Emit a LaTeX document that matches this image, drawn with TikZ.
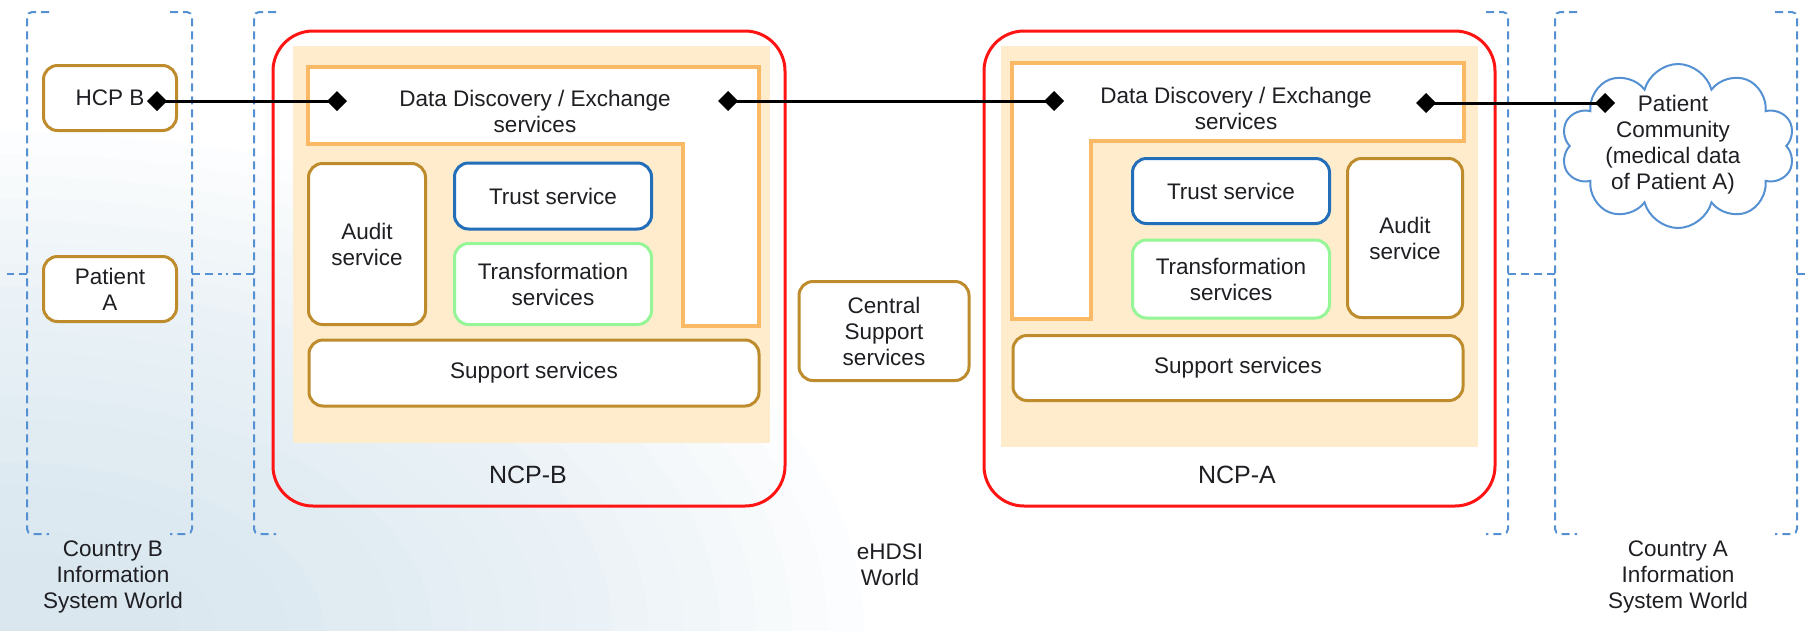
\documentclass[tikz,border=0pt]{standalone}
\usepackage{fontspec}
\setmainfont{Liberation Sans}
\usetikzlibrary{arrows.meta,shapes.symbols}
\definecolor{ncpred}{RGB}{255,20,20}
\definecolor{ncpfill}{RGB}{255,236,204}
\definecolor{ddorange}{RGB}{250,185,100}
\definecolor{svcgold}{RGB}{190,140,45}
\definecolor{trustblue}{RGB}{35,110,185}
\definecolor{transgreen}{RGB}{150,245,150}
\definecolor{worldblue}{RGB}{85,145,210}
\definecolor{bgglow}{RGB}{200,220,232}
\definecolor{inktext}{RGB}{30,30,35}

\begin{document}
\begin{tikzpicture}[x=1pt,y=-1pt,
        every node/.style={font=\fontsize{22.5}{26}\selectfont,text=inktext,align=center},
        svcbox/.style={draw=svcgold,line width=3pt,rounded corners=14pt,fill=white,inner sep=0pt},
        trustbox/.style={svcbox,draw=trustblue},
        transbox/.style={svcbox,draw=transgreen},
        ncpbox/.style={draw=ncpred,line width=3pt,rounded corners=40pt},
        ncparea/.style={fill=ncpfill},
        ddpart/.style={draw=ddorange,line width=3.5pt,fill=white},
        ncplabel/.style={font=\fontsize{25}{30}\selectfont},
        worldbrace/.style={draw=worldblue,line width=2pt,dash pattern=on 8pt off 5pt,rounded corners=5pt},
        community/.style={draw=worldblue,line width=2pt,fill=white,cloud,cloud puffs=10,cloud ignores aspect,minimum width=234pt,minimum height=164pt},
        exchange/.style={line width=3pt,{Diamond[length=20pt,width=20pt]}-{Diamond[length=20pt,width=20pt]}}]
        \useasboundingbox (0,0) rectangle (1808,630);
        \foreach \k in {1,...,20}
            \fill[bgglow,opacity=0.055] (0,630) ellipse ({900-36*\k} and {520-22*\k});

        \draw[worldbrace] (49,12) -- (27,12) -- (27,534) -- (49,534);
        \draw[worldbrace] (27,274) -- (7,274);
        \draw[worldbrace] (170,12) -- (192,12) -- (192,534) -- (170,534);
        \draw[worldbrace] (192,274) -- (222,274);
        \draw[worldbrace] (276,12) -- (254,12) -- (254,534) -- (276,534);
        \draw[worldbrace] (254,274) -- (226,274);
        \draw[worldbrace] (1486,12) -- (1508,12) -- (1508,534) -- (1486,534);
        \draw[worldbrace] (1508,274) -- (1530,274);
        \draw[worldbrace] (1577,12) -- (1555,12) -- (1555,534) -- (1577,534);
        \draw[worldbrace] (1555,274) -- (1533,274);
        \draw[worldbrace] (1775,12) -- (1797,12) -- (1797,534) -- (1775,534);
        \draw[worldbrace] (1797,274) -- (1812,274);

        \node (cbworld) at (113,577) {Country B\\Information\\System World};
        \node (ehdsiworld) at (890,565) {eHDSI\\World};
        \node (caworld) at (1678,577) {Country A\\Information\\System World};

        \node[svcbox,minimum width=133pt,minimum height=65pt] (hcpb) at (110,98) {HCP B};
        \node[svcbox,minimum width=133pt,minimum height=65pt] (patienta) at (110,289) {Patient\\A};
        \node[svcbox,minimum width=170pt,minimum height=99pt] (central) at (884,331) {Central\\Support\\services};

        \draw[ncpbox] (273,31) rectangle (785,506);
        \fill[ncparea] (293,46) rectangle (770,443);
        \draw[ddpart] (308,67) -- (759,67) -- (759,326) -- (683,326) -- (683,144) -- (308,144) -- cycle;
        \node (ddb) at (535,111) {Data Discovery / Exchange\\services};
        \node[svcbox,minimum width=117pt,minimum height=161pt] (auditb) at (367,244) {Audit\\service};
        \node[trustbox,minimum width=197pt,minimum height=66pt] (trustb) at (553,196) {Trust service};
        \node[transbox,minimum width=197pt,minimum height=81pt] (transb) at (553,284) {Transformation\\services};
        \node[svcbox,minimum width=450pt,minimum height=66pt] (supportb) at (534,373) {Support services};
        \node[ncplabel] (ncpb) at (528,475) {NCP-B};

        \draw[ncpbox] (984,31) rectangle (1495,506);
        \fill[ncparea] (1001,46) rectangle (1478,447);
        \draw[ddpart] (1012,63) -- (1464,63) -- (1464,141) -- (1091,141) -- (1091,319) -- (1012,319) -- cycle;
        \node (dda) at (1236,108) {Data Discovery / Exchange\\services};
        \node[trustbox,minimum width=197pt,minimum height=65pt] (trusta) at (1231,191) {Trust service};
        \node[transbox,minimum width=197pt,minimum height=78pt] (transa) at (1231,279) {Transformation\\services};
        \node[svcbox,minimum width=115pt,minimum height=159pt] (audita) at (1405,238) {Audit\\service};
        \node[svcbox,minimum width=450pt,minimum height=65pt] (supporta) at (1238,368) {Support services};
        \node[ncplabel] (ncpa) at (1237,475) {NCP-A};

        \node[community] (patientcloud) at (1678,146) {};
        \node (cloudtext) at (1673,145) {Patient\\Community\\(medical data\\of Patient A)};

        \coordinate (hcpbport) at (147,101);
        \coordinate (ddbwest) at (347,101);
        \coordinate (ddbeast) at (718,101);
        \coordinate (ddawest) at (1064,101);
        \coordinate (ddaeast) at (1416,103);
        \coordinate (cloudport) at (1615,103);
        \draw[exchange] (hcpbport) -- (ddbwest);
        \draw[exchange] (ddbeast) -- (ddawest);
        \draw[exchange] (ddaeast) -- (cloudport);
\end{tikzpicture}
\end{document}
